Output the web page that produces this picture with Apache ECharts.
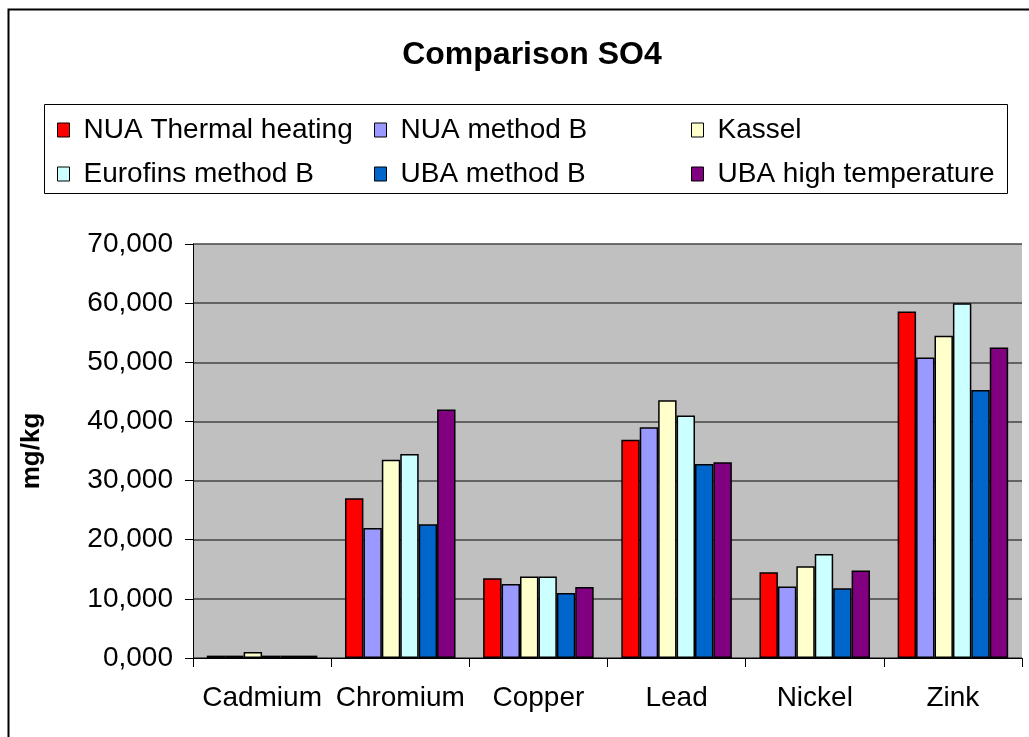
<!DOCTYPE html>
<html>
<head>
<meta charset="utf-8">
<script src="https://cdn.jsdelivr.net/npm/echarts@6/dist/echarts.min.js"></script>
<style>
html,body{margin:0;padding:0;background:#fff;}
#c{width:1029px;height:737px;}
</style>
</head>
<body>
<div id="c"></div>
<script>
var categories = ['Cadmium', 'Chromium', 'Copper', 'Lead', 'Nickel', 'Zink'];
var seriesNames = ['NUA Thermal heating', 'NUA method B', 'Kassel', 'Eurofins method B', 'UBA method B', 'UBA high temperature'];
var nuaThermal = [0.4, 27.0, 13.5, 36.9, 14.5, 58.6];
var nuaMethodB = [0.4, 22.0, 12.5, 39.0, 12.1, 50.8];
var kassel = [1.0, 33.5, 13.8, 43.6, 15.5, 54.5];
var eurofinsB = [0.4, 34.5, 13.8, 41.0, 17.6, 60.0];
var ubaMethodB = [0.4, 22.6, 11.0, 32.8, 11.8, 45.3];
var ubaHighTemp = [0.4, 42.0, 12.0, 33.1, 14.8, 52.5];
var yTicks = {min: 0, max: 70, interval: 10};

var colors = ['#FF0000', '#9999FF', '#FFFFCC', '#CCFFFF', '#0066CC', '#800080'];
var values = [nuaThermal, nuaMethodB, kassel, eurofinsB, ubaMethodB, ubaHighTemp];
var FONT = '"Liberation Sans", Arial, sans-serif';

var chart = echarts.init(document.getElementById('c'), null, {renderer: 'canvas'});
var series = seriesNames.map(function (n, i) {
  return {
    name: n,
    type: 'bar',
    data: values[i],
    barGap: '0%',
    barCategoryGap: '20%',
    itemStyle: {color: colors[i], borderColor: '#000', borderWidth: 1.5},
    emphasis: {disabled: true}
  };
});

// legend layout: 3 columns x 2 rows
var legendCols = [57, 374, 691];
var legendRows = [116, 160];
var legends = seriesNames.map(function (n, i) {
  return {
    data: [n],
    left: legendCols[i % 3],
    top: legendRows[Math.floor(i / 3)],
    padding: 0,
    itemWidth: 12,
    itemHeight: 14,
    icon: 'rect',
    itemStyle: {borderColor: '#000', borderWidth: 1},
    textStyle: {fontFamily: FONT, fontSize: 28, color: '#000', padding: [0, 0, 0, 9]},
    selectedMode: false
  };
});

chart.setOption({
  animation: false,
  color: colors,
  textStyle: {fontFamily: FONT},
  graphic: [{
    type: 'rect',
    shape: {x: 8.5, y: 9.5, width: 1100, height: 800},
    style: {fill: 'none', stroke: '#000', lineWidth: 2},
    z: 100
  }, {
    type: 'rect',
    shape: {x: 44.5, y: 104.5, width: 963, height: 89},
    style: {fill: '#fff', stroke: '#000', lineWidth: 1},
    z: -1
  }],
  title: {
    text: 'Comparison SO4',
    left: 527,
    top: 34,
    textAlign: 'center',
    textStyle: {fontFamily: FONT, fontSize: 32, fontWeight: 'bold', color: '#000'}
  },
  legend: legends,
  grid: {left: 193, right: 7, top: 244, bottom: 79, show: true, backgroundColor: '#C0C0C0', borderColor: '#808080', borderWidth: 0},
  xAxis: {
    type: 'category',
    data: categories,
    axisLine: {lineStyle: {color: '#000', width: 1}},
    axisTick: {show: true, length: 9, lineStyle: {color: '#000'}},
    axisLabel: {fontFamily: FONT, fontSize: 28, color: '#000', margin: 26, interval: 0, hideOverlap: false}
  },
  yAxis: {
    type: 'value',
    min: yTicks.min,
    max: yTicks.max,
    interval: yTicks.interval,
    name: 'mg/kg',
    nameLocation: 'middle',
    nameGap: 148,
    nameRotate: 90,
    nameTextStyle: {fontFamily: FONT, fontSize: 26, fontWeight: 'bold', color: '#000'},
    axisLine: {show: true, lineStyle: {color: '#000', width: 1}},
    axisTick: {show: true, length: 8, lineStyle: {color: '#000'}},
    axisLabel: {
      fontFamily: FONT, fontSize: 28, color: '#000', margin: 20,
      formatter: function (v) { return v.toFixed(3).replace('.', ','); }
    },
    splitLine: {show: true, lineStyle: {color: '#444', width: 1.5}}
  },
  series: series
});
</script>
</body>
</html>
